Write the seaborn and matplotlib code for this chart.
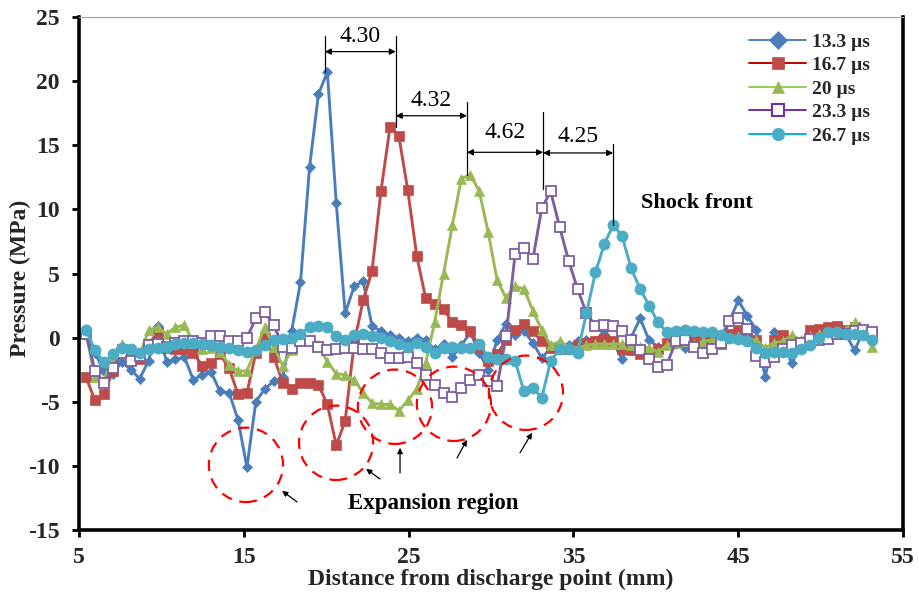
import matplotlib
matplotlib.use("Agg")
import matplotlib.pyplot as plt
from matplotlib.lines import Line2D
from matplotlib.patches import Ellipse
import seaborn as sns

# Sampling positions along the line (mm)
distance_mm = [5.43, 5.97, 6.51, 7.06, 7.60, 8.14, 8.68, 9.23, 9.77, 10.31,
               10.85, 11.39, 11.94, 12.48, 13.02, 13.56, 14.11, 14.65, 15.19, 15.73,
               16.27, 16.82, 17.36, 17.90, 18.44, 18.99, 19.53, 20.07, 20.61, 21.15,
               21.70, 22.24, 22.78, 23.32, 23.87, 24.41, 24.95, 25.49, 26.03, 26.58,
               27.12, 27.66, 28.20, 28.75, 29.29, 29.83, 30.37, 30.91, 31.46, 32.00,
               32.54, 33.08, 33.62, 34.17, 34.71, 35.25, 35.79, 36.34, 36.88, 37.42,
               37.96, 38.50, 39.05, 39.59, 40.13, 40.67, 41.22, 41.76, 42.30, 42.84,
               43.38, 43.93, 44.47, 45.01, 45.55, 46.10, 46.64, 47.18, 47.72, 48.26,
               48.81, 49.35, 49.89, 50.43, 50.98, 51.52, 52.06, 52.60, 53.14]

# Pressure (MPa) at each time
p_13_3 = [0.2, -1.2, -2.6, -2.8, -1.9, -2.5, -3.2, -1.8, 0.9, -1.9,
          -1.7, -1.5, -3.3, -2.9, -2.7, -4.2, -4.3, -6.4, -10.1, -5.0,
          -4.0, -3.4, -3.1, 0.5, 4.3, 13.3, 19.0, 20.7, 10.5, 1.9,
          4.0, 4.4, 0.9, 0.5, 0.2, 0.0, -0.3, 0.0, -0.2, -0.9,
          -0.5, -1.5, -0.6, 0.4, -1.2, -2.5, -0.2, 1.1, 0.2, 0.5,
          -0.4, -1.6, -0.8, -0.5, -0.6, -0.3, -0.2, -0.3, 0.6, -0.4,
          -1.7, 0.0, 1.5, -0.2, -0.7, -0.6, -0.5, -0.8, -0.5, -0.4,
          -0.3, 0.0, 1.3, 2.9, 1.7, 0.6, -3.1, 0.4, -0.5, -2.0,
          -0.5, 0.3, 0.6, 0.7, 0.8, 0.3, -1.0, 0.5, 0.4]

p_16_7 = [-3.1, -4.9, -4.4, -2.6, -0.9, -1.5, -1.7, -0.5, 0.4, -0.8,
          -0.9, -0.9, -1.2, -2.2, -2.0, -1.3, -2.4, -4.4, -4.3, -1.2,
          0.0, -1.5, -3.5, -4.0, -3.5, -3.5, -3.7, -5.2, -8.4, -6.5,
          -0.4, 2.9, 5.2, 11.4, 16.4, 15.7, 11.5, 6.4, 3.1, 2.6,
          2.2, 1.2, 1.0, 0.5, -0.7, -1.8, -1.3, -0.2, 0.6, 1.1,
          0.5, -0.3, -0.8, -0.9, -0.9, -0.6, -0.4, -0.3, -0.1, -0.3,
          -0.9, -1.0, -1.3, -1.4, -0.9, -0.4, -0.3, -0.1, 0.0, -0.2,
          -0.3, -0.5, 0.3, 0.6, 0.0, -0.2, -1.6, -0.2, 0.2, -0.8,
          -0.4, 0.6, 0.7, 0.8, 0.9, 0.6, 0.8, 0.5, 0.3]

p_20 = [0.3, -3.1, -3.3, -1.6, -0.5, -1.5, -1.4, 0.6, 0.8, 0.3,
        0.8, 1.0, -0.4, -0.9, -0.8, -1.1, -2.1, -2.6, -2.6, -0.9,
        0.8, -0.7, -2.2, -1.0, 0.1, -0.2, -0.6, -1.9, -2.8, -2.9,
        -3.3, -4.3, -5.1, -5.2, -5.2, -5.7, -4.9, -4.0, -2.0, 1.2,
        5.0, 8.8, 12.4, 12.7, 11.4, 8.2, 4.5, 3.1, 4.0, 3.8,
        2.1, 0.6, -0.6, -0.3, -0.7, -0.8, -0.6, -0.5, -0.5, -0.5,
        -0.5, -0.6, -0.7, -0.8, -1.1, -0.6, -0.4, -0.3, -0.5, -0.3,
        -0.2, -0.1, 0.0, 0.1, -0.1, -0.2, -0.8, -0.4, -0.3, 0.2,
        -0.2, 0.1, 0.3, 0.2, 0.4, 0.6, 1.2, 0.3, -0.7]

p_23_3 = [0.3, -2.6, -3.5, -2.4, -1.2, -1.8, -1.4, -0.6, -0.5, -0.7,
          -0.4, -0.3, -0.3, -0.4, 0.1, 0.1, -0.3, -0.3, 0.0, 1.5,
          2.0, 1.0, -0.7, -0.8, -0.3, -0.3, -0.7, -1.0, -0.9, -0.8,
          -0.8, -0.9, -0.9, -1.2, -1.6, -1.6, -1.5, -2.0, -2.9, -3.7,
          -4.3, -4.6, -3.9, -3.3, -2.9, -3.4, -3.8, 0.1, 6.5, 7.0,
          6.1, 10.1, 11.4, 8.6, 6.0, 3.8, 1.9, 0.9, 1.0, 0.9,
          0.5, -0.2, -1.0, -1.7, -2.3, -2.1, -0.3, -0.2, -0.7, -1.2,
          -0.9, -0.4, 1.3, 1.5, 0.7, -1.4, -1.9, -1.5, -0.9, -0.6,
          -0.4, -0.1, -0.2, -0.1, 0.3, 0.3, 0.5, 0.6, 0.4]

p_26_7 = [0.6, -1.0, -1.9, -1.3, -0.8, -0.9, -1.2, -0.9, -0.8, -0.7,
          -0.5, -0.4, -0.4, -0.5, -0.6, -0.7, -0.8, -1.0, -1.1, -1.0,
          -0.6, -0.2, -0.1, 0.0, 0.3, 0.8, 0.9, 0.8, 0.1, -0.2,
          0.2, 0.3, 0.1, 0.0, -0.3, -0.5, -0.7, -0.4, -0.7, -1.2,
          -0.8, -0.7, -0.8, -0.8, -0.5, -1.5, -1.7, -1.7, -1.8, -4.2,
          -3.9, -4.7, -1.8, -0.9, -0.9, -1.2, 1.9, 5.1, 7.3, 8.8,
          7.9, 5.4, 3.8, 2.5, 1.2, 0.4, 0.5, 0.6, 0.5, 0.4,
          0.4, 0.2, 0.0, -0.1, -0.3, -0.8, -1.2, -1.1, -1.1, -1.2,
          -0.9, -0.6, 0.0, 0.4, 0.4, 0.3, 0.3, 0.2, -0.2]

series_labels = ["13.3 \u00b5s", "16.7 \u00b5s", "20 \u00b5s", "23.3 \u00b5s", "26.7 \u00b5s"]
series_values = [p_13_3, p_16_7, p_20, p_23_3, p_26_7]

# Shock-front spacing between successive peaks (mm)
first_peak_mm = 19.92
peak_spacing = [4.30, 4.32, 4.62, 4.25]

# Styling
line_colors = ["#4A7EBB", "#BE4B48", "#98B954", "#7D5FA0", "#4BACC6"]
legend_line_colors = ["#4F81BD", "#C00000", "#92D050", "#7030A0", "#00B0F0"]
markers = ["D", "s", "^", "s", "o"]
marker_sizes = [5.5, 6.5, 7.0, 6.5, 8.0]
hollow = [False, False, False, True, False]

sns.set_theme(style="white")
plt.rcParams["font.family"] = ["Liberation Serif", "DejaVu Serif"]
plt.rcParams["axes.unicode_minus"] = False
plt.rcParams["mathtext.default"] = "regular"

fig = plt.figure(figsize=(9.19, 5.94), dpi=100)
ax = fig.add_axes([79 / 919, 64 / 594, 824 / 919, 513 / 594])

for vals, col, mk, ms, hol in zip(series_values, line_colors, markers, marker_sizes, hollow):
    sns.lineplot(x=distance_mm, y=vals, ax=ax, color=col, linewidth=2.1,
                 marker=mk, markersize=ms,
                 markerfacecolor=("white" if hol else col),
                 markeredgecolor=col, markeredgewidth=(1.3 if hol else 0.5),
                 sort=False, estimator=None, legend=False)

ax.set_xlim(5, 55)
ax.set_ylim(-15, 25)
ax.set_xticks([5, 15, 25, 35, 45, 55])
ax.set_yticks([-15, -10, -5, 0, 5, 10, 15, 20, 25])
ax.tick_params(axis="both", direction="out", length=5, width=2, labelsize=17,
               color="black", left=True, bottom=True)
ax.tick_params(axis="y", pad=9)
ax.tick_params(axis="x", pad=7)
for lab in ax.get_xticklabels() + ax.get_yticklabels():
    lab.set_fontweight("bold")

for side in ["left", "bottom", "right"]:
    ax.spines[side].set_color("black")
    ax.spines[side].set_linewidth(2.6)
ax.spines["top"].set_color("#A0A0A0")
ax.spines["top"].set_linewidth(0.8)

ax.set_xlabel("Distance from discharge point (mm)", fontsize=17, fontweight="bold", labelpad=1)
ax.set_ylabel("Pressure (MPa)", fontsize=17, fontweight="bold")
ax.yaxis.set_label_coords(-0.058, 0.49)

# Dimension lines between successive peaks
peak_x = [first_peak_mm]
for d in peak_spacing:
    peak_x.append(round(peak_x[-1] + d, 2))
line_tops = [23.5, 23.5, 18.4, 17.6, 15.1]
line_bottoms = [20.7, 16.4, 12.7, 11.6, 8.8]
arrow_levels = [22.3, 17.3, 14.45, 14.4]
label_levels = [23.5, 18.5, 16.0, 15.7]

for x, top, bot in zip(peak_x, line_tops, line_bottoms):
    ax.plot([x, x], [bot, top], color="black", lw=0.9, zorder=6)
for k, d in enumerate(peak_spacing):
    x0, x1 = peak_x[k], peak_x[k + 1]
    ax.annotate("", xy=(x1, arrow_levels[k]), xytext=(x0, arrow_levels[k]),
                arrowprops=dict(arrowstyle="<|-|>", color="black", lw=0.9,
                                mutation_scale=9, shrinkA=0, shrinkB=0), zorder=6)
    ax.text((x0 + x1) / 2, label_levels[k], f"{d:.2f}", ha="center", va="center",
            fontsize=17, color="black")

# Expansion-region markers
circle_centers = [(15.13, -9.92), (20.6, -8.2), (24.17, -5.39), (27.75, -5.16), (32.12, -4.3)]
for cx, cy in circle_centers:
    ax.add_patch(Ellipse((cx, cy), width=4.5, height=5.8, fill=False,
                         edgecolor="#FF0000", lw=1.6, ls=(0, (5, 3.5)), zorder=7))

pointer_arrows = [((18.23, -12.81), (17.32, -11.95)),
                  ((23.26, -11.02), (22.42, -10.23)),
                  ((24.48, -10.55), (24.48, -8.59)),
                  ((27.94, -9.38), (28.54, -7.97)),
                  ((31.76, -8.98), (32.49, -7.42))]
for start, end in pointer_arrows:
    ax.annotate("", xy=end, xytext=start,
                arrowprops=dict(arrowstyle="-|>", color="black", lw=0.9,
                                mutation_scale=8, shrinkA=0, shrinkB=0), zorder=7)

ax.text(26.48, -12.9, "Expansion region", ha="center", va="center",
        fontsize=16.5, fontweight="bold", color="black")
ax.text(42.5, 10.5, "Shock front", ha="center", va="center",
        fontsize=16, fontweight="bold", color="black")

# Legend
handles = []
for col, lcol, mk, hol in zip(line_colors, legend_line_colors, markers, hollow):
    handles.append(Line2D([0], [0], color=lcol, lw=1.4, marker=mk,
                          markersize=9 if mk != "s" else 8,
                          markerfacecolor=("white" if hol else col),
                          markeredgecolor=(lcol if hol else col),
                          markeredgewidth=1.5 if hol else 0.5))
leg = ax.legend(handles, series_labels, loc="upper right", frameon=False,
                bbox_to_anchor=(0.976, 0.995), fontsize=14, handlelength=2.9,
                handletextpad=0.3, labelspacing=0.3, borderaxespad=0.3)
for t in leg.get_texts():
    t.set_fontweight("bold")

fig.savefig("out.png", dpi=100)
